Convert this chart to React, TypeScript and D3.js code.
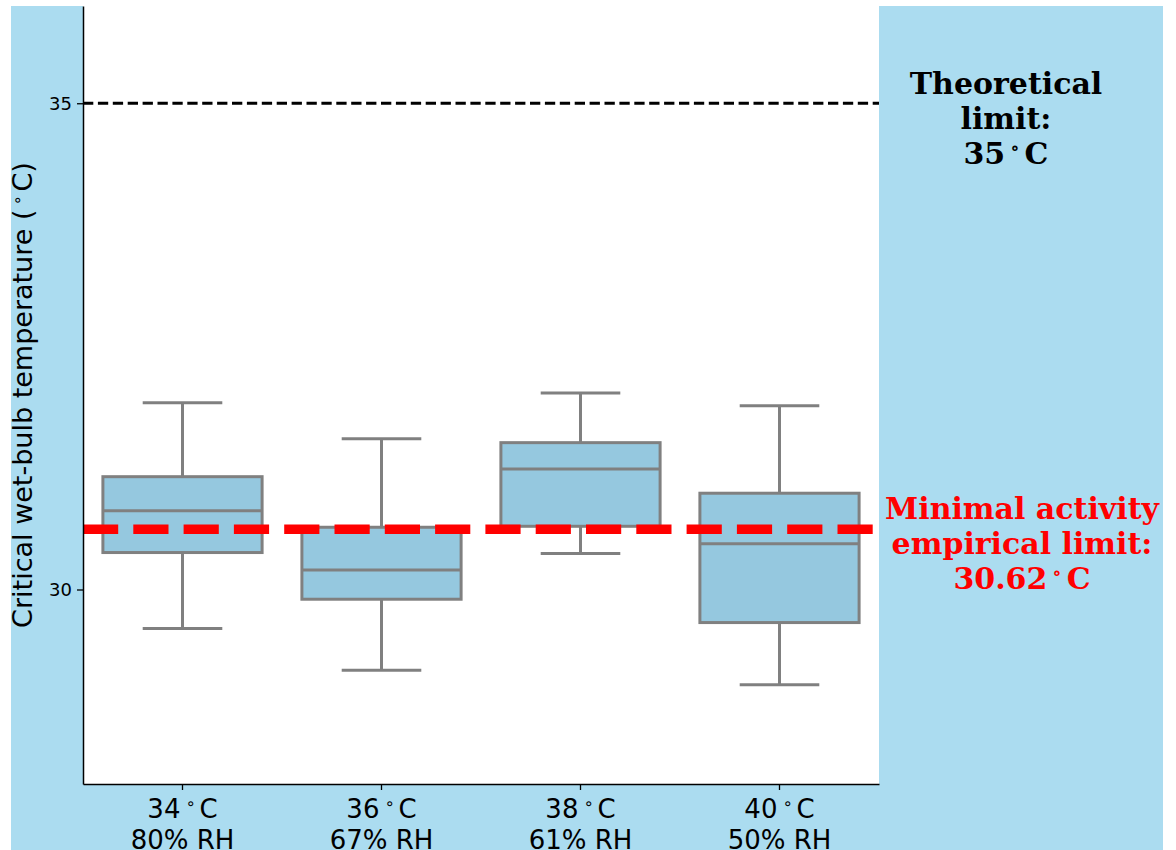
import { useEffect, useRef } from "react";
import * as d3 from "d3";

// conditions on the x axis
const temps = ["34", "36", "38", "40"];
const humidity = ["80% RH", "67% RH", "61% RH", "50% RH"];

// box statistics (critical wet-bulb temperature, °C)
const whiskerLow = [29.6, 29.17, 30.37, 29.02];
const q1 = [30.38, 29.9, 30.65, 29.66];
const median = [30.81, 30.2, 31.24, 30.47];
const q3 = [31.16, 30.64, 31.51, 30.99];
const whiskerHigh = [31.92, 31.55, 32.02, 31.89];

const yTicks = [30, 35];
const theoreticalLimit = 35;
const empiricalLimit = 30.62;

const width = 1176;
const height = 850;
const marginLeft = 83;
const marginRight = 297;
const marginTop = 6;
const marginBottom = 66;

const bg = "#abdcf0";
const boxFill = "#95c8df";
const boxStroke = "#808080";

const App = () => {
  const ref = useRef<SVGSVGElement>(null);

  const x = d3
    .scaleBand()
    .domain(temps)
    .range([marginLeft, width - marginRight])
    .paddingInner(0)
    .paddingOuter(0);

  const y = d3
    .scaleLinear()
    .domain([28, 36])
    .range([height - marginBottom, marginTop]);

  useEffect(() => {
    const svg = d3.select(ref.current);
    svg.selectAll("*").remove();

    svg
      .append("rect")
      .attr("x", 11)
      .attr("y", 6)
      .attr("width", 1152)
      .attr("height", height - 6)
      .attr("fill", bg);

    svg
      .append("rect")
      .attr("x", marginLeft)
      .attr("y", marginTop)
      .attr("width", width - marginRight - marginLeft)
      .attr("height", height - marginBottom - marginTop)
      .attr("fill", "white");

    const bw = x.bandwidth() * 0.8;
    const boxes = svg.append("g");
    temps.forEach((t, i) => {
      const cx = x(t)! + x.bandwidth() / 2;
      const g = boxes.append("g");
      g.append("line")
        .attr("x1", cx).attr("x2", cx)
        .attr("y1", y(whiskerHigh[i])).attr("y2", y(q3[i]))
        .attr("stroke", boxStroke).attr("stroke-width", 3);
      g.append("line")
        .attr("x1", cx).attr("x2", cx)
        .attr("y1", y(q1[i])).attr("y2", y(whiskerLow[i]))
        .attr("stroke", boxStroke).attr("stroke-width", 3);
      [whiskerHigh[i], whiskerLow[i]].forEach((v) => {
        g.append("line")
          .attr("x1", cx - bw / 4).attr("x2", cx + bw / 4)
          .attr("y1", y(v)).attr("y2", y(v))
          .attr("stroke", boxStroke).attr("stroke-width", 3);
      });
      g.append("rect")
        .attr("x", cx - bw / 2)
        .attr("y", y(q3[i]))
        .attr("width", bw)
        .attr("height", y(q1[i]) - y(q3[i]))
        .attr("fill", boxFill)
        .attr("stroke", boxStroke)
        .attr("stroke-width", 3);
      g.append("line")
        .attr("x1", cx - bw / 2).attr("x2", cx + bw / 2)
        .attr("y1", y(median[i])).attr("y2", y(median[i]))
        .attr("stroke", boxStroke).attr("stroke-width", 3);
    });

    // reference lines
    svg
      .append("line")
      .attr("x1", marginLeft).attr("x2", width - marginRight)
      .attr("y1", y(theoreticalLimit)).attr("y2", y(theoreticalLimit))
      .attr("stroke", "black")
      .attr("stroke-width", 2.8)
      .attr("stroke-dasharray", "10.3 4.6");

    svg
      .append("line")
      .attr("x1", marginLeft).attr("x2", width - marginRight - 6)
      .attr("y1", y(empiricalLimit)).attr("y2", y(empiricalLimit))
      .attr("stroke", "#ff0000")
      .attr("stroke-width", 9.5)
      .attr("stroke-dasharray", "35.2 15.1");

    // axes
    const yAxis = svg
      .append("g")
      .attr("transform", `translate(${marginLeft},0)`)
      .call(d3.axisLeft(y).tickValues(yTicks).tickSize(6).tickPadding(5).tickSizeOuter(0));
    yAxis.select(".domain").attr("stroke-width", 1.5);
    yAxis.selectAll(".tick line").attr("stroke-width", 1.3);
    yAxis
      .selectAll(".tick text")
      .attr("font-family", "DejaVu Sans")
      .attr("font-size", 18)
      .attr("fill", "black");

    const xAxis = svg
      .append("g")
      .attr("transform", `translate(0,${height - marginBottom})`)
      .call(d3.axisBottom(x).tickSize(6).tickSizeOuter(0).tickFormat(() => ""));
    xAxis.select(".domain").attr("stroke-width", 1.5);
    xAxis.selectAll(".tick line").attr("stroke-width", 1.3);

    const labels = svg.append("g");
    temps.forEach((t, i) => {
      const cx = x(t)! + x.bandwidth() / 2;
      const txt = labels
        .append("text")
        .attr("x", cx)
        .attr("y", height - marginBottom + 34)
        .attr("text-anchor", "middle")
        .attr("font-family", "DejaVu Sans")
        .attr("font-size", 26)
        .attr("fill", "black");
      txt.append("tspan").text(t);
      txt.append("tspan").attr("dx", 5).attr("dy", -9).attr("font-size", 16).text("∘");
      txt.append("tspan").attr("dx", 4).attr("dy", 9).text("C");
      labels
        .append("text")
        .attr("x", cx)
        .attr("y", height - marginBottom + 65)
        .attr("text-anchor", "middle")
        .attr("font-family", "DejaVu Sans")
        .attr("font-size", 26)
        .attr("fill", "black")
        .text(humidity[i]);
    });

    // y label
    const yl = svg
      .append("text")
      .attr("transform", `translate(32,${(marginTop + height - marginBottom) / 2}) rotate(-90)`)
      .attr("text-anchor", "middle")
      .attr("font-family", "DejaVu Sans")
      .attr("font-size", 27)
      .attr("fill", "black");
    yl.append("tspan").text("Critical wet-bulb temperature (");
    yl.append("tspan").attr("dx", 4).attr("dy", -9).attr("font-size", 16).text("∘");
    yl.append("tspan").attr("dx", 4).attr("dy", 9).text("C)");

    // annotations
    const note = (lines: string[], cx: number, y0: number, color: string) => {
      lines.forEach((l, k) => {
        const tx = svg
          .append("text")
          .attr("x", cx)
          .attr("y", y0 + k * 35)
          .attr("text-anchor", "middle")
          .attr("font-family", "DejaVu Serif")
          .attr("font-weight", "bold")
          .attr("font-size", 30)
          .attr("fill", color);
        if (l.endsWith("C")) {
          tx.append("tspan").text(l.slice(0, -1));
          tx.append("tspan").attr("dx", 5).attr("dy", -10).attr("font-size", 18).text("∘");
          tx.append("tspan").attr("dx", 5).attr("dy", 10).text("C");
        } else {
          tx.text(l);
        }
      });
    };
    note(["Theoretical", "limit:", `${theoreticalLimit}C`], 1006, 94, "black");
    note(["Minimal activity", "empirical limit:", `${empiricalLimit}C`], 1022, 519, "#ff0000");
  }, []);

  return (
    <svg
      ref={ref}
      width={width}
      height={height}
      style={{ position: "absolute", left: 0, top: 0, background: "white" }}
    />
  );
};

export default App;
